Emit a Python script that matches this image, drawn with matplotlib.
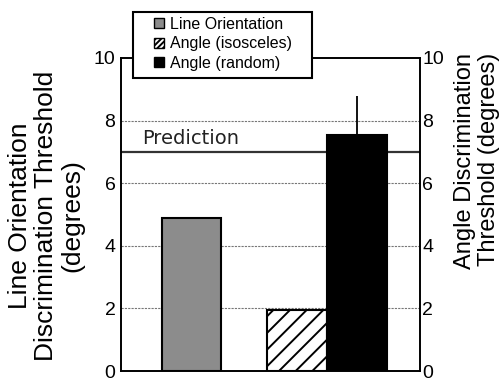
import matplotlib
matplotlib.use('Agg')
import matplotlib.pyplot as plt
from matplotlib.patches import Patch, Rectangle

# Data
conditions = ['Line Orientation', 'Angle (isosceles)', 'Angle (random)']
thresholds = [4.9, 1.95, 7.55]
upper_err = [0, 0, 1.25]
prediction = 7.0
yticks = [0, 2, 4, 6, 8, 10]

plt.rcParams['font.family'] = ['Liberation Sans', 'DejaVu Sans']
plt.rcParams['hatch.linewidth'] = 1.4

fig = plt.figure(figsize=(5.03, 3.80), dpi=100)
ax = fig.add_axes([121 / 503, 9 / 380, 299 / 503, 313 / 380])

positions = [1.175, 2.93, 3.93]
fills = ['#8c8c8c', 'white', 'black']
hatches = ['', '//', '']

# grid lines behind the bars
for y in yticks[1:-1]:
    ax.axhline(y, color='#777777', lw=0.8, ls=(0, (2, 1)), zorder=0)

bars = ax.bar(positions, thresholds, width=1.0, color=fills, edgecolor='black',
              linewidth=1.5, zorder=2)
for b, h in zip(bars, hatches):
    b.set_hatch(h)

ax.errorbar(positions, thresholds, yerr=[[0, 0, 0], upper_err], fmt='none',
            ecolor='black', elinewidth=1.3, capsize=0, zorder=3)

ax.axhline(prediction, color='#333333', lw=1.6, zorder=1)
ax.text(0.36, prediction + 0.12, 'Prediction', fontsize=14, family='DejaVu Sans',
        color='#222222', va='bottom', ha='left')

ax.set_xlim(0, 299 / 60)
ax.set_ylim(0, 10)
ax.set_xticks([])
ax.set_yticks(yticks)
ax.tick_params(axis='y', length=0, labelsize=14, pad=4)
for s in ax.spines.values():
    s.set_linewidth(1.2)

ax2 = ax.twinx()
ax2.set_ylim(0, 10)
ax2.set_yticks(yticks)
ax2.tick_params(axis='y', length=0, labelsize=14, pad=1.5)
for s in ax2.spines.values():
    s.set_linewidth(1.2)

# axis titles
fig.text(46 / 503, 1 - 216 / 380, 'Line Orientation\nDiscrimination Threshold\n(degrees)',
         rotation=90, fontsize=19, ha='center', va='center', multialignment='center',
         linespacing=1.1)
fig.text(477 / 503, 1 - 53 / 380, 'Angle Discrimination\nThreshold (degrees)',
         rotation=90, fontsize=17, ha='center', va='top', multialignment='right',
         linespacing=1.15)

# legend box
fig.add_artist(Rectangle((133 / 503, 1 - 78 / 380), 179 / 503, 66 / 380,
                         transform=fig.transFigure, facecolor='white',
                         edgecolor='black', lw=1.5, zorder=9))
handles = [Patch(facecolor=fills[i], edgecolor='black', hatch=hatches[i] * 3,
                 linewidth=1, label=conditions[i]) for i in range(3)]
leg = fig.legend(handles=handles, loc='upper left', bbox_to_anchor=(154 / 503, 1 - 17 / 380),
                 fontsize=11.5, frameon=False, handlelength=0.6, handleheight=0.6,
                 handletextpad=0.4, labelspacing=0.27, borderpad=0, borderaxespad=0)
leg.set_zorder(10)

fig.savefig('out.png', dpi=100)
